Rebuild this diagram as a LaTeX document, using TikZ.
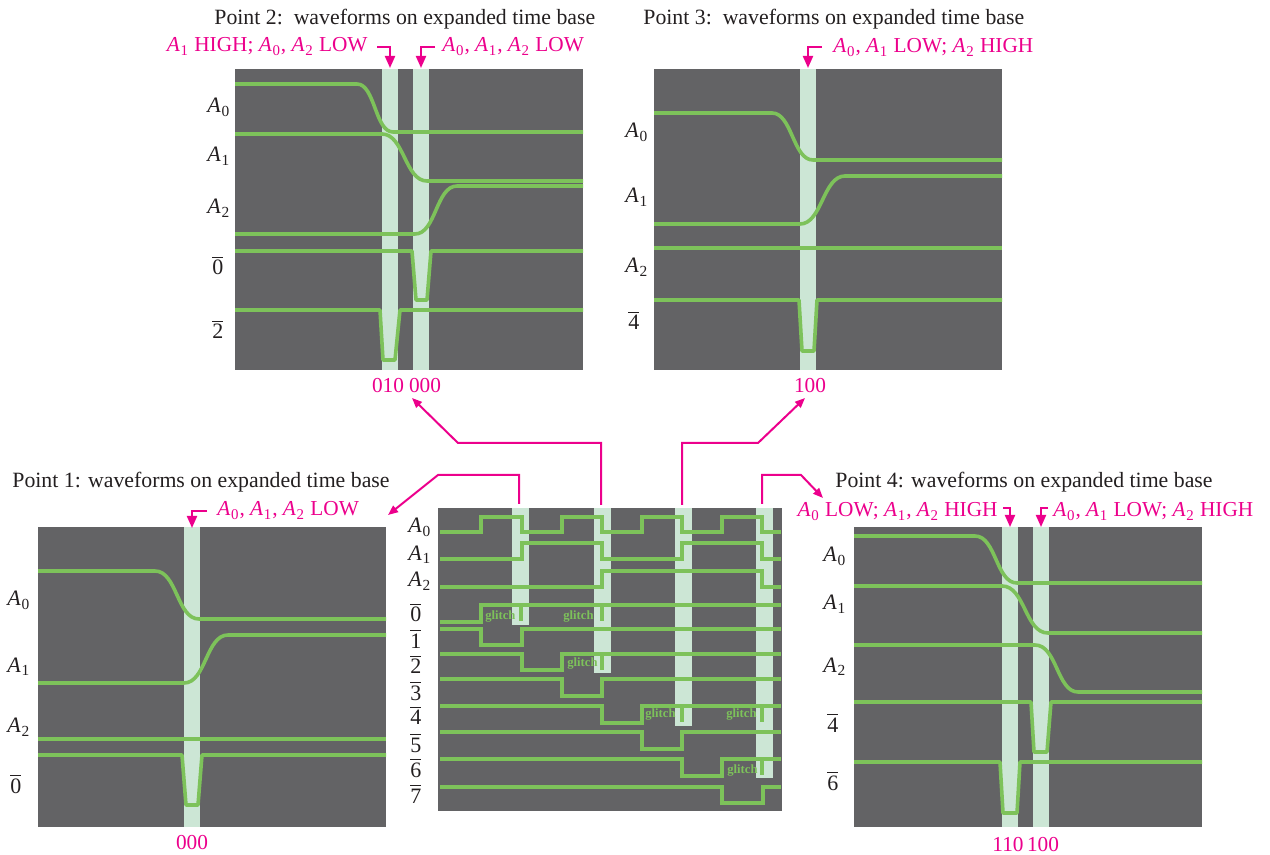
\documentclass[tikz,border=0pt]{standalone}
\usepackage{fontspec}
\setmainfont{Liberation Serif}
\usetikzlibrary{arrows.meta}
\definecolor{panelgray}{HTML}{636365}
\definecolor{wgreen}{HTML}{7DC25A}
\definecolor{bandgreen}{HTML}{CCE6D5}
\definecolor{mag}{HTML}{EC008C}
\definecolor{txt}{HTML}{231F20}
\newcommand\Ai[1]{\textit{A}\kern0.3pt\textsubscript{#1}}
\newcommand\nb[1]{$\overline{\mbox{#1}}$}
\begin{document}
\begin{tikzpicture}[x=0.5pt,y=-0.5pt,
 panel/.style={fill=panelgray},
 band/.style={fill=bandgreen},
 wave/.style={draw=wgreen, line width=1.8pt, line join=round},
 cwave/.style={draw=wgreen, line width=2pt},
 gtick/.style={draw=wgreen, line width=2pt},
 glab/.style={text=wgreen, font=\fontsize{6.3}{7}\selectfont\bfseries, inner sep=0pt, anchor=base west},
 lab/.style={text=txt, font=\fontsize{11}{13}\selectfont, inner sep=0pt},
 ttl/.style={text=txt, font=\fontsize{10.9}{13}\selectfont, inner sep=0pt, anchor=base west},
 mtext/.style={text=mag, font=\fontsize{10.65}{13}\selectfont, inner sep=0pt},
 marrow/.style={draw=mag, line width=1pt, -{Triangle[length=6pt,width=5pt]}},
 bigarrow/.style={draw=mag, line width=1pt, -{Triangle[length=5pt,width=4pt]}},
]
\useasboundingbox (0,0) rectangle (1270,855);

% ================= Panel 2 (top left) =================
\fill[panel] (235,69) rectangle (583,370);
\fill[band] (382,69) rectangle (398,370);
\fill[band] (413,69) rectangle (429,370);
\path[wave] (235,84) -- (357,84) .. controls (375,84) and (375,132) .. (393,132) -- (583,132);
\path[wave] (235,134) -- (382,134) .. controls (404,134) and (405,181) .. (427,181) -- (583,181);
\path[wave] (235,234) -- (415,234) .. controls (436,234) and (436,186) .. (457,186) -- (583,186);
\path[wave] (235,251) -- (412,251) -- (416,300) -- (427,300) -- (431,251) -- (583,251);
\path[wave] (235,310) -- (380,310) -- (383,360) -- (395,360) -- (400,310) -- (583,310);
\node[lab, anchor=base west] (p2a0) at (207,113) {\Ai{0}};
\node[lab, anchor=base west] (p2a1) at (207,162) {\Ai{1}};
\node[lab, anchor=base west] (p2a2) at (207,214) {\Ai{2}};
\node[lab, anchor=base west] (p2n0) at (212,275) {\nb{0}};
\node[lab, anchor=base west] (p2n2) at (212,339) {\nb{2}};
\node[ttl] (p2t) at (214,25) {Point 2:\ \ waveforms on expanded time base};
\node[mtext, anchor=base east] (p2m1) at (368,52) {\Ai{1} HIGH; \Ai{0}, \Ai{2} LOW};
\node[mtext, anchor=base west] (p2m2) at (442,52) {\Ai{0}, \Ai{1}, \Ai{2} LOW};
\coordinate (p2a1s) at (377,47); \coordinate (p2a1k) at (390,47); \coordinate (p2a1e) at (390,68);
\coordinate (p2a2s) at (435,47); \coordinate (p2a2k) at (421,47); \coordinate (p2a2e) at (421,68);
\draw[marrow] (p2a1s) -- (p2a1k) -- (p2a1e);
\draw[marrow] (p2a2s) -- (p2a2k) -- (p2a2e);
\node[mtext] (p2c1) at (388,386) {010};
\node[mtext] (p2c2) at (425,386) {000};

% ================= Panel 3 (top right) =================
\fill[panel] (654,69) rectangle (1002,370);
\fill[band] (800,69) rectangle (816,370);
\path[wave] (654,113) -- (772,113) .. controls (792,113) and (793,160) .. (813,160) -- (1002,160);
\path[wave] (654,224) -- (800,224) .. controls (822,224) and (823,176) .. (845,176) -- (1002,176);
\path[wave] (654,248) -- (1002,248);
\path[wave] (654,300) -- (799,300) -- (802,351) -- (814,351) -- (817,300) -- (1002,300);
\node[lab, anchor=base west] (p3a0) at (625,138) {\Ai{0}};
\node[lab, anchor=base west] (p3a1) at (625,203) {\Ai{1}};
\node[lab, anchor=base west] (p3a2) at (625,273) {\Ai{2}};
\node[lab, anchor=base west] (p3n4) at (628,330) {\nb{4}};
\node[ttl] (p3t) at (643,25) {Point 3:\ \ waveforms on expanded time base};
\node[mtext, anchor=base west] (p3m) at (833,53) {\Ai{0}, \Ai{1} LOW; \Ai{2} HIGH};
\coordinate (p3as) at (822,47); \coordinate (p3ak) at (808,47); \coordinate (p3ae) at (808,68);
\draw[marrow] (p3as) -- (p3ak) -- (p3ae);
\node[mtext] (p3c) at (810,386) {100};

% ================= Panel 1 (bottom left) =================
\fill[panel] (38,527) rectangle (386,827);
\fill[band] (184,527) rectangle (200,827);
\path[wave] (38,571) -- (155,571) .. controls (177,571) and (177,619) .. (199,619) -- (386,619);
\path[wave] (38,683) -- (184,683) .. controls (206,683) and (206,635) .. (228,635) -- (386,635);
\path[wave] (38,739) -- (386,739);
\path[wave] (38,755) -- (182,755) -- (186,805) -- (198,805) -- (202,755) -- (386,755);
\node[lab, anchor=base west] (p1a0) at (7,606) {\Ai{0}};
\node[lab, anchor=base west] (p1a1) at (7,672) {\Ai{1}};
\node[lab, anchor=base west] (p1a2) at (7,733) {\Ai{2}};
\node[lab, anchor=base west] (p1n0) at (10,793) {\nb{0}};
\node[ttl] (p1t) at (12,488) {Point 1: waveforms on expanded time base};
\node[mtext, anchor=base west] (p1m) at (217,516) {\Ai{0}, \Ai{1}, \Ai{2} LOW};
\coordinate (p1as) at (207,511); \coordinate (p1ak) at (192,511); \coordinate (p1ae) at (192,528);
\draw[marrow] (p1as) -- (p1ak) -- (p1ae);
\node[mtext] (p1c) at (192,843) {000};

% ================= Panel 4 (bottom right) =================
\fill[panel] (854,527) rectangle (1202,827);
\fill[band] (1002,527) rectangle (1018,827);
\fill[band] (1033,527) rectangle (1049,827);
\path[wave] (854,536) -- (975,536) .. controls (996,536) and (996,583) .. (1017,583) -- (1202,583);
\path[wave] (854,586) -- (1002,586) .. controls (1025,586) and (1025,633) .. (1048,633) -- (1202,633);
\path[wave] (854,645) -- (1035,645) .. controls (1057,645) and (1057,692) .. (1078,692) -- (1202,692);
\path[wave] (854,702) -- (1031,702) -- (1034,752) -- (1047,752) -- (1051,702) -- (1202,702);
\path[wave] (854,762) -- (1000,762) -- (1003,813) -- (1017,813) -- (1020,762) -- (1202,762);
\node[lab, anchor=base west] (p4a0) at (823,562) {\Ai{0}};
\node[lab, anchor=base west] (p4a1) at (823,610) {\Ai{1}};
\node[lab, anchor=base west] (p4a2) at (823,672) {\Ai{2}};
\node[lab, anchor=base west] (p4n4) at (827,732) {\nb{4}};
\node[lab, anchor=base west] (p4n6) at (827,790) {\nb{6}};
\node[ttl] (p4t) at (835,488) {Point 4: waveforms on expanded time base};
\node[mtext, anchor=base east] (p4m1) at (998,517) {\Ai{0} LOW; \Ai{1}, \Ai{2} HIGH};
\node[mtext, anchor=base west] (p4m2) at (1053,517) {\Ai{0}, \Ai{1} LOW; \Ai{2} HIGH};
\coordinate (p4a1s) at (1003,508); \coordinate (p4a1k) at (1010,508); \coordinate (p4a1e) at (1010,527);
\coordinate (p4a2s) at (1048,508); \coordinate (p4a2k) at (1041,508); \coordinate (p4a2e) at (1041,527);
\draw[marrow] (p4a1s) -- (p4a1k) -- (p4a1e);
\draw[marrow] (p4a2s) -- (p4a2k) -- (p4a2e);
\node[mtext] (p4c1) at (1008,845) {110};
\node[mtext] (p4c2) at (1043,845) {100};

% ================= Central panel =================
\fill[panel] (438,508) rectangle (782,811);
\fill[band] (512,508) rectangle (529,625);
\fill[band] (594,508) rectangle (611,673);
\fill[band] (675,508) rectangle (692,726);
\fill[band] (756,508) rectangle (773,778);
% A0
\path[cwave] (440,532)--(481,532)--(481,517)--(522,517)--(522,532)--(562,532)--(562,517)--(602,517)--(602,532)--(642,532)--(642,517)--(682,517)--(682,532)--(722,532)--(722,517)--(762,517)--(762,532)--(781,532);
% A1
\path[cwave] (440,559)--(522,559)--(522,543)--(602,543)--(602,559)--(682,559)--(682,543)--(762,543)--(762,559)--(781,559);
% A2
\path[cwave] (440,587)--(602,587)--(602,571)--(762,571)--(762,587)--(781,587);
% 0bar
\path[cwave] (440,622)--(481,622)--(481,605)--(781,605);
\path[gtick] (521,605)--(521,621);
\path[gtick] (602,605)--(602,621);
% 1bar
\path[cwave] (440,629)--(481,629)--(481,645)--(522,645)--(522,629)--(781,629);
% 2bar
\path[cwave] (440,654)--(522,654)--(522,670)--(562,670)--(562,654)--(781,654);
\path[gtick] (602,654)--(602,670);
% 3bar
\path[cwave] (440,679)--(562,679)--(562,696)--(602,696)--(602,679)--(781,679);
% 4bar
\path[cwave] (440,706)--(602,706)--(602,723)--(642,723)--(642,706)--(781,706);
\path[gtick] (682,706)--(682,722);
\path[gtick] (762,706)--(762,722);
% 5bar
\path[cwave] (440,732)--(642,732)--(642,749)--(682,749)--(682,732)--(781,732);
% 6bar
\path[cwave] (440,759)--(682,759)--(682,776)--(722,776)--(722,759)--(781,759);
\path[gtick] (762,759)--(762,775);
% 7bar
\path[cwave] (440,787)--(722,787)--(722,803)--(763,803)--(763,787)--(781,787);
% glitch labels
\node[glab] (g1) at (485,619) {glitch};
\node[glab] (g2) at (563,619) {glitch};
\node[glab] (g3) at (567,667) {glitch};
\node[glab] (g4) at (645,718) {glitch};
\node[glab] (g5) at (726,718) {glitch};
\node[glab] (g6) at (727,773) {glitch};
% central labels
\node[lab, anchor=base west] (ca0) at (408,533) {\Ai{0}};
\node[lab, anchor=base west] (ca1) at (408,560) {\Ai{1}};
\node[lab, anchor=base west] (ca2) at (408,587) {\Ai{2}};
\node[lab, anchor=base west] (cn0) at (410,622) {\nb{0}};
\node[lab, anchor=base west] (cn1) at (410,648) {\nb{1}};
\node[lab, anchor=base west] (cn2) at (410,674) {\nb{2}};
\node[lab, anchor=base west] (cn3) at (410,700) {\nb{3}};
\node[lab, anchor=base west] (cn4) at (410,725) {\nb{4}};
\node[lab, anchor=base west] (cn5) at (410,752) {\nb{5}};
\node[lab, anchor=base west] (cn6) at (410,777) {\nb{6}};
\node[lab, anchor=base west] (cn7) at (410,803) {\nb{7}};

% ================= connectors from central panel =================
\coordinate (c1s) at (519,504); \coordinate (c1a) at (519,475); \coordinate (c1b) at (438,475); \coordinate (c1e) at (388,515);
\coordinate (c2s) at (601,505); \coordinate (c2a) at (601,443); \coordinate (c2b) at (458,443); \coordinate (c2e) at (412,398);
\coordinate (c3s) at (682,505); \coordinate (c3a) at (682,443); \coordinate (c3b) at (758,443); \coordinate (c3e) at (805,398);
\coordinate (c4s) at (762,504); \coordinate (c4a) at (762,475); \coordinate (c4b) at (801,475); \coordinate (c4e) at (823,498);
\draw[bigarrow] (c1s) -- (c1a) -- (c1b) -- (c1e);
\draw[bigarrow] (c2s) -- (c2a) -- (c2b) -- (c2e);
\draw[bigarrow] (c3s) -- (c3a) -- (c3b) -- (c3e);
\draw[bigarrow] (c4s) -- (c4a) -- (c4b) -- (c4e);
\end{tikzpicture}
\end{document}
